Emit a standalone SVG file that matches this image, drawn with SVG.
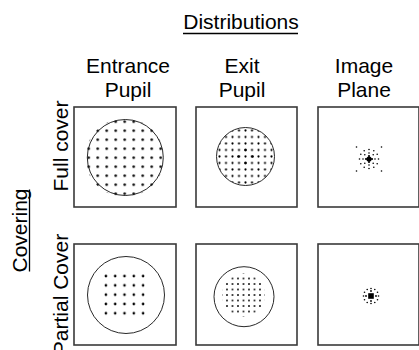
<svg xmlns="http://www.w3.org/2000/svg" xmlns:xlink="http://www.w3.org/1999/xlink" width="419" height="350" viewBox="0 0 419 350">
  <style>
    .lbl { font-family: "Liberation Sans", Arial, sans-serif; font-size: 21px; fill: #000; text-anchor: middle; }
    .ul { stroke: #000; stroke-width: 1.3; }
    .box { fill: #fff; stroke: #3a3a3a; stroke-width: 1.6; }
    .pupil { fill: none; stroke: #111; stroke-width: 0.9; }
    .dot { fill: #000; }
  </style>
  <defs>
    <!-- sampling grids used to fill the pupils -->
    <pattern id="gridEntranceFull" patternUnits="userSpaceOnUse" x="120.2" y="153.2" width="9" height="9">
      <circle cx="4.5" cy="4.5" r="1.3" fill="#000"/>
    </pattern>
    <pattern id="gridExitFull" patternUnits="userSpaceOnUse" x="242.25" y="153.25" width="6.5" height="6.5">
      <circle cx="3.25" cy="3.25" r="1.05" fill="#000"/>
    </pattern>
    <pattern id="gridEntrancePartial" patternUnits="userSpaceOnUse" x="101.25" y="271.45" width="9.3" height="9.3">
      <circle cx="4.65" cy="4.65" r="1.3" fill="#000"/>
    </pattern>
    <pattern id="gridExitPartial" patternUnits="userSpaceOnUse" x="240.75" y="292.25" width="5.5" height="5.5">
      <circle cx="2.75" cy="2.75" r="0.95" fill="#000"/>
    </pattern>
  </defs>

  <!-- titles -->
  <g id="title-distributions">
    <text class="lbl" x="241" y="29">Distributions</text>
    <line class="ul" x1="183" y1="33.5" x2="298" y2="33.5"/>
  </g>
  <g id="title-covering" transform="translate(26.5,230.5) rotate(-90)">
    <text class="lbl" x="0" y="0">Covering</text>
    <line class="ul" x1="-41" y1="3" x2="41" y2="3"/>
  </g>

  <!-- column headers -->
  <g id="col-entrance">
    <text class="lbl" x="128" y="72.5">Entrance</text>
    <text class="lbl" x="128" y="96.5">Pupil</text>
  </g>
  <g id="col-exit">
    <text class="lbl" x="242" y="72.5">Exit</text>
    <text class="lbl" x="242" y="96.5">Pupil</text>
  </g>
  <g id="col-image">
    <text class="lbl" x="364" y="72.5">Image</text>
    <text class="lbl" x="364" y="96.5">Plane</text>
  </g>

  <!-- row headers -->
  <g id="row-full">
    <text class="lbl" transform="translate(68,146) rotate(-90)">Full cover</text>
  </g>
  <g id="row-partial">
    <text class="lbl" transform="translate(68,294.5) rotate(-90)">Partial Cover</text>
  </g>

  <!-- full cover row -->
  <g id="full-entrance">
    <rect class="box" x="74" y="107" width="102" height="100"/>
    <circle cx="124.7" cy="157.7" r="39.4" fill="url(#gridEntranceFull)"/>
    <circle class="pupil" cx="125.3" cy="157.5" r="38"/>
  </g>
  <g id="full-exit">
    <rect class="box" x="196" y="107" width="101" height="100"/>
    <circle cx="245.5" cy="156.5" r="28.8" fill="url(#gridExitFull)"/>
    <circle class="dot" cx="238.5" cy="156.5" r="1.3"/>
    <circle class="dot" cx="252.5" cy="156.5" r="1.3"/>
    <circle class="dot" cx="245.5" cy="150" r="1.3"/>
    <circle class="dot" cx="245.5" cy="163" r="1.3"/>
    <circle class="pupil" cx="245.5" cy="156.5" r="29"/>
  </g>
  <g id="full-image">
    <rect class="box" x="318" y="107" width="101" height="100"/>
    <g class="dot">
      <circle cx="369" cy="159" r="2.6"/>
      <circle cx="372" cy="159" r="1.1"/><circle cx="366" cy="159" r="1.1"/>
      <circle cx="369" cy="156" r="1.1"/><circle cx="369" cy="162" r="1.1"/>
      <circle cx="375" cy="159" r="0.8"/><circle cx="373.2" cy="163.2" r="0.8"/>
      <circle cx="369" cy="165" r="0.8"/><circle cx="364.8" cy="163.2" r="0.8"/>
      <circle cx="363" cy="159" r="0.8"/><circle cx="364.8" cy="154.8" r="0.8"/>
      <circle cx="369" cy="153" r="0.8"/><circle cx="373.2" cy="154.8" r="0.8"/>
      <circle cx="378.5" cy="159" r="0.8"/><circle cx="377.2" cy="163.8" r="0.8"/>
      <circle cx="373.8" cy="167.2" r="0.8"/><circle cx="369" cy="168.5" r="0.8"/>
      <circle cx="364.2" cy="167.2" r="0.8"/><circle cx="360.8" cy="163.8" r="0.8"/>
      <circle cx="359.5" cy="159" r="0.8"/><circle cx="360.8" cy="154.2" r="0.8"/>
      <circle cx="364.2" cy="150.8" r="0.8"/><circle cx="369" cy="149.5" r="0.8"/>
      <circle cx="373.8" cy="150.8" r="0.8"/><circle cx="377.2" cy="154.2" r="0.8"/>
      <circle cx="356.5" cy="147" r="0.8"/><circle cx="381.5" cy="147" r="0.8"/>
      <circle cx="356.5" cy="171" r="0.8"/><circle cx="381.5" cy="171" r="0.8"/>
    </g>
  </g>

  <!-- partial cover row -->
  <g id="partial-entrance">
    <rect class="box" x="74" y="244" width="102" height="101"/>
    <rect x="101.25" y="271.45" width="46.5" height="46.5" fill="url(#gridEntrancePartial)"/>
    <circle class="pupil" cx="126" cy="295" r="38.5"/>
  </g>
  <g id="partial-exit">
    <rect class="box" x="196" y="244" width="101" height="101"/>
    <circle cx="243.5" cy="295" r="21.5" fill="url(#gridExitPartial)"/>
    <circle class="pupil" cx="244" cy="296.7" r="30"/>
  </g>
  <g id="partial-image">
    <rect class="box" x="318" y="244" width="101" height="101"/>
    <g class="dot">
      <rect x="368.2" y="293.2" width="5.6" height="5.6"/>
      <circle cx="376" cy="296" r="0.9"/><circle cx="366" cy="296" r="0.9"/>
      <circle cx="371" cy="291" r="0.9"/><circle cx="371" cy="301" r="0.9"/>
      <circle cx="378.5" cy="296" r="0.8"/><circle cx="377.5" cy="299.8" r="0.8"/>
      <circle cx="374.8" cy="302.5" r="0.8"/><circle cx="371" cy="303.5" r="0.8"/>
      <circle cx="367.2" cy="302.5" r="0.8"/><circle cx="364.5" cy="299.8" r="0.8"/>
      <circle cx="363.5" cy="296" r="0.8"/><circle cx="364.5" cy="292.2" r="0.8"/>
      <circle cx="367.2" cy="289.5" r="0.8"/><circle cx="371" cy="288.5" r="0.8"/>
      <circle cx="374.8" cy="289.5" r="0.8"/><circle cx="377.5" cy="292.2" r="0.8"/>
    </g>
  </g>
</svg>
